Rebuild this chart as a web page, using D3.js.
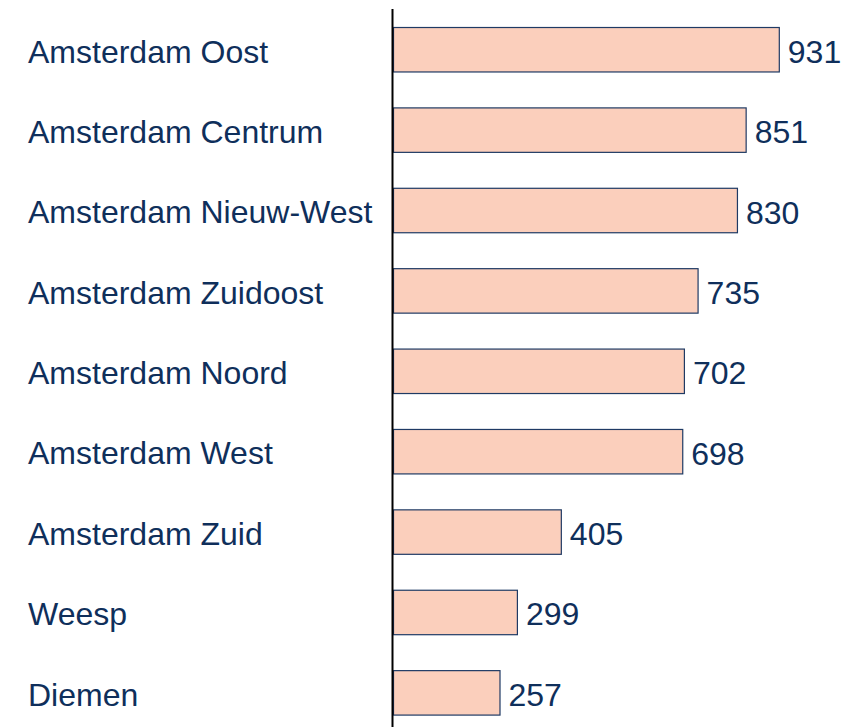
<!DOCTYPE html>
<html>
<head>
<meta charset="utf-8">
<script src="https://cdn.jsdelivr.net/npm/d3@7"></script>
<style>
  body { margin: 0; background: #fff; }
  svg text { font-family: "Liberation Sans", Arial, sans-serif; fill: #0f2f5b; }
</style>
</head>
<body>
<div id="chart"></div>
<script>
var names = ["Amsterdam Oost", "Amsterdam Centrum", "Amsterdam Nieuw-West", "Amsterdam Zuidoost",
             "Amsterdam Noord", "Amsterdam West", "Amsterdam Zuid", "Weesp", "Diemen"];
var values = [931, 851, 830, 735, 702, 698, 405, 299, 257];

var width = 858, height = 727;
var x0 = 393.5;

var svg = d3.select("#chart")
    .append("svg")
    .attr("width", width)
    .attr("height", height);

var x = d3.scaleLinear()
    .domain([0, 931])
    .range([x0, 779.3]);

var y = d3.scaleBand()
    .domain(names)
    .range([5, 737.6])
    .paddingInner(0.447)
    .paddingOuter(0.28);

var rows = names.map(function(d, i) { return {name: d, value: values[i]}; });

svg.selectAll("rect.bar")
    .data(rows)
    .enter()
    .append("rect")
    .attr("class", "bar")
    .attr("x", x(0))
    .attr("y", function(d) { return y(d.name); })
    .attr("width", function(d) { return x(d.value) - x(0); })
    .attr("height", y.bandwidth())
    .attr("fill", "#fbcfbc")
    .attr("stroke", "#1f3a64")
    .attr("stroke-width", 1.2);

// category labels
svg.selectAll("text.name")
    .data(rows)
    .enter()
    .append("text")
    .attr("class", "name")
    .attr("x", 28)
    .attr("y", function(d) { return y(d.name) + y.bandwidth() / 2 + 12.8; })
    .style("font-size", "32px")
    .text(function(d) { return d.name; });

// value labels
svg.selectAll("text.val")
    .data(rows)
    .enter()
    .append("text")
    .attr("class", "val")
    .attr("x", function(d) { return x(d.value) + 8.5; })
    .attr("y", function(d) { return y(d.name) + y.bandwidth() / 2 + 13; })
    .style("font-size", "32px")
    .text(function(d) { return d.value; });

// vertical axis line
svg.append("line")
    .attr("x1", 392.5).attr("x2", 392.5)
    .attr("y1", 9).attr("y2", height)
    .attr("stroke", "#000")
    .attr("stroke-width", 2);
</script>
</body>
</html>
